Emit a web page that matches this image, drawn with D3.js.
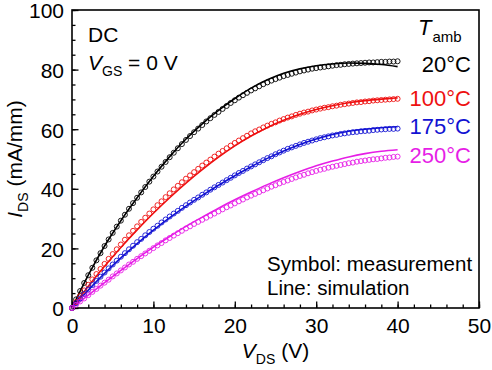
<!DOCTYPE html>
<html>
<head>
<meta charset="utf-8">
<script src="https://cdn.jsdelivr.net/npm/d3@7"></script>
<style>
  body { margin: 0; background: #fff; }
  svg { display: block; font-family: "Liberation Sans", Arial, sans-serif; }
</style>
</head>
<body>
<div id="chart"></div>
<script>
var svgWidth = 492;
var svgHeight = 370;

var margin = { top: 10, right: 13, bottom: 62, left: 72 };
var chartWidth = svgWidth - margin.left - margin.right;
var chartHeight = svgHeight - margin.top - margin.bottom;

// measurement: V_DS from 0 to 40 V every 0.5 V
var vMeas = d3.range(0, 40.01, 0.5);
var meas20 = [0, 2.9, 5.7, 8.4, 11.0, 13.5, 16.0, 18.4, 20.8, 23.0, 25.2, 27.3, 29.3, 31.3, 33.3, 35.2, 37.0, 38.8, 40.6, 42.4,
  44.1, 45.8, 47.4, 49.0, 50.6, 52.1, 53.6, 55.0, 56.4, 57.7, 59.0, 60.2, 61.4, 62.6, 63.7, 64.8, 65.8, 66.8, 67.8, 68.8,
  69.7, 70.6, 71.4, 72.2, 73.0, 73.7, 74.4, 75.1, 75.7, 76.3, 76.8, 77.3, 77.8, 78.2, 78.6, 79.0, 79.4, 79.7, 80.0, 80.3,
  80.5, 80.7, 80.9, 81.1, 81.3, 81.5, 81.6, 81.8, 81.9, 82.0, 82.1, 82.2, 82.3, 82.4, 82.4, 82.5, 82.6, 82.6, 82.7, 82.7, 82.8];
var meas100 = [0, 2.0, 4.0, 5.9, 7.8, 9.6, 11.4, 13.1, 14.8, 16.5, 18.1, 19.7, 21.3, 22.9, 24.4, 25.9, 27.4, 28.9, 30.3, 31.7,
  33.1, 34.5, 35.8, 37.2, 38.5, 39.8, 41.0, 42.2, 43.4, 44.5, 45.6, 46.7, 47.8, 48.8, 49.8, 50.8, 51.8, 52.7, 53.6, 54.5,
  55.4, 56.2, 57.0, 57.8, 58.6, 59.3, 59.9, 60.6, 61.2, 61.8, 62.3, 62.9, 63.4, 63.9, 64.3, 64.8, 65.2, 65.6, 65.9, 66.3,
  66.6, 66.9, 67.2, 67.4, 67.7, 67.9, 68.2, 68.4, 68.6, 68.8, 69.0, 69.1, 69.3, 69.4, 69.6, 69.7, 69.8, 69.9, 70.0, 70.1, 70.2];
var meas175 = [0, 1.6, 3.2, 4.7, 6.2, 7.7, 9.1, 10.5, 11.9, 13.3, 14.6, 15.9, 17.2, 18.4, 19.7, 20.9, 22.1, 23.2, 24.4, 25.5,
  26.6, 27.6, 28.7, 29.7, 30.7, 31.7, 32.6, 33.6, 34.5, 35.4, 36.3, 37.1, 38.0, 38.8, 39.7, 40.5, 41.3, 42.1, 42.9, 43.7,
  44.5, 45.3, 46.0, 46.8, 47.5, 48.2, 48.9, 49.6, 50.3, 50.9, 51.6, 52.2, 52.8, 53.4, 53.9, 54.4, 54.9, 55.4, 55.8, 56.2,
  56.6, 57.0, 57.3, 57.6, 57.9, 58.1, 58.4, 58.6, 58.8, 59.0, 59.1, 59.3, 59.4, 59.5, 59.7, 59.8, 59.9, 60.0, 60.1, 60.1, 60.2];
var meas250 = [0, 1.1, 2.2, 3.2, 4.3, 5.4, 6.4, 7.5, 8.5, 9.5, 10.6, 11.6, 12.6, 13.6, 14.6, 15.5, 16.5, 17.4, 18.3, 19.2,
  20.1, 21.0, 21.8, 22.7, 23.5, 24.3, 25.1, 25.9, 26.7, 27.4, 28.2, 28.9, 29.6, 30.3, 31.0, 31.7, 32.4, 33.1, 33.8, 34.4,
  35.1, 35.8, 36.4, 37.1, 37.7, 38.3, 38.9, 39.5, 40.1, 40.7, 41.2, 41.8, 42.3, 42.8, 43.3, 43.8, 44.3, 44.7, 45.2, 45.6,
  46.0, 46.4, 46.7, 47.1, 47.4, 47.7, 48.0, 48.3, 48.6, 48.8, 49.1, 49.3, 49.5, 49.7, 49.9, 50.0, 50.2, 50.4, 50.5, 50.7, 50.8];

// simulation: V_DS from 0 to 40 V every 2 V
var vSim = d3.range(0, 40.01, 2);
var sim20 = [0, 11.0, 20.8, 29.3, 37.0, 44.2, 50.8, 56.7, 61.8, 66.3, 70.3, 73.8, 76.6, 78.8, 80.3, 81.3, 81.9, 82.2, 82.1, 81.7, 81.0];
var sim100 = [0, 7.3, 14.0, 20.3, 26.2, 31.8, 37.0, 41.9, 46.4, 50.6, 54.4, 57.7, 60.6, 63.0, 65.0, 66.6, 67.9, 68.9, 69.6, 70.1, 70.5];
var sim175 = [0, 6.0, 11.6, 16.8, 21.6, 26.1, 30.3, 34.2, 37.8, 41.2, 44.4, 47.4, 50.2, 52.7, 54.9, 56.7, 58.2, 59.3, 60.0, 60.5, 60.8];
var sim250 = [0, 4.3, 8.5, 12.6, 16.6, 20.4, 24.0, 27.4, 30.5, 33.5, 36.3, 38.9, 41.4, 43.7, 45.8, 47.7, 49.3, 50.7, 51.8, 52.6, 53.1];

var tempLabels = ["20°C", "100°C", "175°C", "250°C"];
var colors = ["#000000", "#ee1010", "#1212d2", "#e61ee6"];
var measSeries = [meas20, meas100, meas175, meas250];
var simSeries = [sim20, sim100, sim175, sim250];

var svg = d3.select("#chart")
  .append("svg")
  .attr("width", svgWidth)
  .attr("height", svgHeight);

var chartGroup = svg.append("g")
  .attr("transform", `translate(${margin.left}, ${margin.top})`);

var xScale = d3.scaleLinear().domain([0, 50]).range([0, chartWidth]);
var yScale = d3.scaleLinear().domain([0, 100]).range([chartHeight, 0]);

// axes, ticks pointing inward
var xMinor = d3.axisBottom(xScale).tickValues(d3.range(0, 51, 2)).tickSize(-3.5).tickFormat("");
var xMajor = d3.axisBottom(xScale).tickValues(d3.range(0, 51, 10)).tickSize(-6.5).tickPadding(10);
var yMinor = d3.axisLeft(yScale).tickValues(d3.range(0, 101, 5)).tickSize(-3.5).tickFormat("");
var yMajor = d3.axisLeft(yScale).tickValues(d3.range(0, 101, 20)).tickSize(-6.5).tickPadding(8);

chartGroup.append("g").attr("transform", `translate(0, ${chartHeight})`).call(xMinor);
var xAxis = chartGroup.append("g").attr("transform", `translate(0, ${chartHeight})`).call(xMajor);
chartGroup.append("g").call(yMinor);
var yAxis = chartGroup.append("g").call(yMajor);

chartGroup.selectAll(".domain").remove();
chartGroup.selectAll(".tick line").attr("stroke", "#000").attr("stroke-width", 1.3);
chartGroup.selectAll(".tick text")
  .attr("fill", "#000")
  .attr("font-size", "21px")
  .attr("font-family", "Liberation Sans, Arial, sans-serif");
xAxis.selectAll(".tick text").attr("dy", "0.71em");
yAxis.selectAll(".tick text").attr("dy", "0.38em");

chartGroup.append("rect")
  .attr("width", chartWidth)
  .attr("height", chartHeight)
  .attr("fill", "none")
  .attr("stroke", "#000")
  .attr("stroke-width", 1.6);

// simulation lines
var line = d3.line()
  .x((d, i) => xScale(vSim[i]))
  .y(d => yScale(d))
  .curve(d3.curveMonotoneX);

chartGroup.selectAll(".sim")
  .data(simSeries)
  .enter()
  .append("path")
  .attr("d", line)
  .attr("fill", "none")
  .attr("stroke", (d, i) => colors[i])
  .attr("stroke-width", 1.6);

// measurement symbols
measSeries.forEach((series, k) => {
  chartGroup.append("g")
    .selectAll("circle")
    .data(series)
    .enter()
    .append("circle")
    .attr("cx", (d, i) => xScale(vMeas[i]))
    .attr("cy", d => yScale(d))
    .attr("r", 2.5)
    .attr("fill", "none")
    .attr("stroke", colors[k])
    .attr("stroke-width", 0.9);
});

// annotations
var font = "Liberation Sans, Arial, sans-serif";
svg.append("text").attr("x", 88).attr("y", 42).attr("font-size", "21px").attr("font-family", font).text("DC");

var vgs = svg.append("text").attr("x", 88).attr("y", 70).attr("font-size", "21px").attr("font-family", font);
vgs.append("tspan").attr("font-style", "italic").text("V");
vgs.append("tspan").attr("font-size", "14px").attr("dy", 6).text("GS");
vgs.append("tspan").attr("dy", -6).text(" = 0 V");

var tamb = svg.append("text").attr("x", 418).attr("y", 35).attr("font-size", "22px").attr("font-family", font);
tamb.append("tspan").attr("font-style", "italic").text("T");
tamb.append("tspan").attr("font-size", "15px").attr("dy", 7).attr("dx", 1).text("amb");

var labelY = [72, 106, 134, 163];
svg.selectAll(".tlabel")
  .data(tempLabels)
  .enter()
  .append("text")
  .attr("x", 471)
  .attr("y", (d, i) => labelY[i])
  .attr("text-anchor", "end")
  .attr("font-size", "22px")
  .attr("font-family", font)
  .attr("fill", (d, i) => colors[i])
  .text(d => d);

svg.append("text").attr("x", 267).attr("y", 271).attr("font-size", "20.5px").attr("font-family", font).text("Symbol: measurement");
svg.append("text").attr("x", 267).attr("y", 295).attr("font-size", "20.5px").attr("font-family", font).text("Line: simulation");

// axis titles
var xTitle = svg.append("text")
  .attr("x", margin.left + chartWidth / 2)
  .attr("y", 358)
  .attr("text-anchor", "middle")
  .attr("font-size", "21px")
  .attr("font-family", font);
xTitle.append("tspan").attr("font-style", "italic").text("V");
xTitle.append("tspan").attr("font-size", "14px").attr("dy", 6).text("DS");
xTitle.append("tspan").attr("dy", -6).text(" (V)");

var yTitle = svg.append("text")
  .attr("transform", `translate(22, ${margin.top + chartHeight / 2}) rotate(-90)`)
  .attr("text-anchor", "middle")
  .attr("font-size", "21px")
  .attr("font-family", font);
yTitle.append("tspan").attr("font-style", "italic").text("I");
yTitle.append("tspan").attr("font-size", "14px").attr("dy", 6).text("DS");
yTitle.append("tspan").attr("dy", -6).text(" (mA/mm)");
</script>
</body>
</html>
